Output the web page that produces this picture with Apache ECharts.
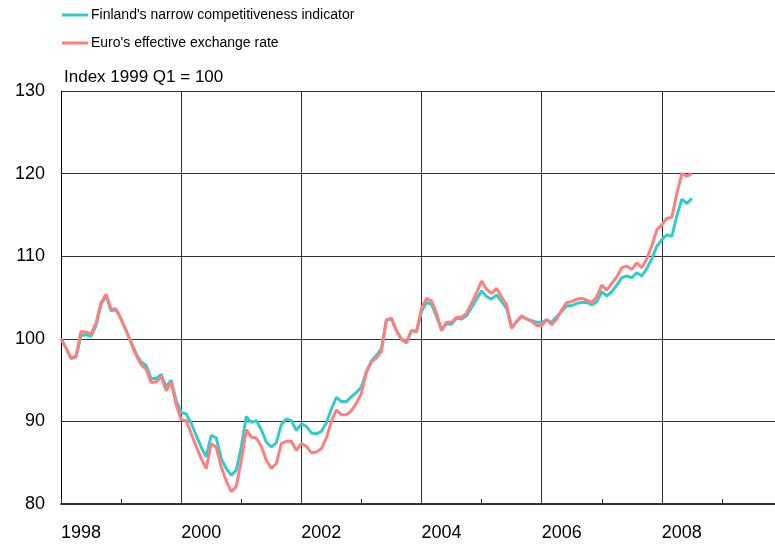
<!DOCTYPE html>
<html>
<head>
<meta charset="utf-8">
<script src="https://cdn.jsdelivr.net/npm/echarts@6/dist/echarts.min.js"></script>
<style>
html,body{margin:0;padding:0;background:#fff;overflow:hidden;width:775px;height:548px;}
#chart{width:785px;height:548px;}
</style>
</head>
<body>
<div id="chart"></div>
<script>
// Monthly data, first point January 1998
var startYear = 1998;
var seriesNames = ["Finland's narrow competitiveness indicator", "Euro's effective exchange rate"];
var finland = [
  100.0, 98.9, 97.6, 97.8, 100.4, 100.5, 100.3, 101.6, 104.2, 105.2, 103.4, 103.5,
  102.4, 101.0, 99.6, 98.2, 97.2, 96.8, 95.2, 95.2, 95.7, 94.2, 95.0, 92.5,
  91.1, 90.9, 89.8, 88.3, 86.9, 85.7, 88.3, 88.0, 85.5, 84.3, 83.5, 84.1,
  86.9, 90.6, 89.9, 90.1, 89.0, 87.5, 86.9, 87.4, 89.6, 90.3, 90.1, 88.9,
  89.7, 89.4, 88.6, 88.5, 88.8, 89.8, 91.5, 92.9, 92.4, 92.4, 93.0, 93.5,
  94.2, 96.0, 97.3, 98.0, 98.8, 102.3, 102.4, 101.0, 100.0, 99.6, 101.0, 100.8,
  103.3, 104.4, 104.2, 102.7, 101.1, 101.8, 101.8, 102.5, 102.4, 102.8, 103.8, 104.8,
  105.8, 105.1, 104.8, 105.3, 104.5, 103.7, 101.3, 102.1, 102.7, 102.4, 102.2, 102.0,
  102.0, 102.3, 102.0, 102.7, 103.3, 104.0, 104.0, 104.3, 104.4, 104.4, 104.1, 104.5,
  105.7, 105.2, 105.7, 106.5, 107.4, 107.6, 107.4, 108.0, 107.6, 108.5, 109.7, 111.2,
  112.0, 112.6, 112.4, 114.9, 116.9, 116.4, 117.0
];
var euro = [
  100.0, 98.9, 97.7, 97.9, 100.9, 100.8, 100.6, 101.9, 104.4, 105.4, 103.6, 103.6,
  102.4, 101.0, 99.5, 98.0, 96.9, 96.3, 94.7, 94.8, 95.4, 93.7, 94.8, 92.0,
  90.2, 90.1, 88.5, 87.0, 85.5, 84.3, 87.3, 86.9, 84.5, 82.8, 81.5, 82.1,
  85.3, 89.0, 88.1, 88.0, 87.0, 85.3, 84.3, 84.9, 87.3, 87.6, 87.6, 86.5,
  87.3, 87.0, 86.2, 86.3, 86.7, 88.0, 90.0, 91.4, 90.8, 90.8, 91.3, 92.2,
  93.4, 96.0, 97.2, 97.7, 98.5, 102.3, 102.5, 101.0, 99.9, 99.5, 101.0, 100.9,
  103.7, 104.9, 104.6, 103.1, 101.0, 102.0, 102.0, 102.6, 102.6, 103.1, 104.3, 105.6,
  107.0, 106.0, 105.5, 106.1, 105.1, 104.1, 101.3, 102.1, 102.8, 102.4, 102.1, 101.6,
  101.6, 102.3, 101.7, 102.4, 103.5, 104.4, 104.5, 104.8, 104.9, 104.7, 104.4, 105.1,
  106.5, 105.9, 106.7, 107.5, 108.6, 108.8, 108.4, 109.2, 108.6, 109.7, 111.3, 113.2,
  113.8, 114.6, 114.7, 117.6, 120.0, 119.7, 120.0
];
var yTicks = [80, 90, 100, 110, 120, 130];
var xTicks = [1998, 2000, 2002, 2004, 2006, 2008];
var yTitle = 'Index 1999 Q1 = 100';

function toPairs(arr) {
  return arr.map(function (v, i) { return [startYear + i / 12, v]; });
}

var font = "'Liberation Sans', Arial, sans-serif";
var chart = echarts.init(document.getElementById('chart'), null, {renderer: 'canvas'});
chart.setOption({
  animation: false,
  backgroundColor: '#ffffff',
  textStyle: {fontFamily: font},
  graphic: [{
    type: 'text', left: 64, top: 69,
    style: {text: yTitle, font: '17px ' + font, fill: '#000'}
  }],
  legend: {
    orient: 'vertical', left: 57, top: 3, itemGap: 14,
    itemWidth: 26, itemHeight: 3, icon: 'rect',
    textStyle: {fontSize: 14, color: '#000', fontFamily: font, padding: [0,0,0,-2]},
    data: [seriesNames[0], seriesNames[1]]
  },
  grid: {left: 61, right: 1, top: 91, bottom: 44, containLabel: false},
  xAxis: {
    type: 'value', min: xTicks[0], max: 2010, interval: 2,
    axisLine: {show: true, onZero: false, lineStyle: {color: '#333', width: 2}},
    axisTick: {show: true, inside: true, length: 5, lineStyle: {color: '#333'}},
    minorTick: {show: true, splitNumber: 2, length: 5, lineStyle: {color: '#333'}},
    splitLine: {show: true, lineStyle: {color: '#333', width: 1}},
    axisLabel: {
      fontSize: 18, color: '#000', align: 'left', margin: 20, fontFamily: font,
      formatter: function (v) { return xTicks.indexOf(v) >= 0 ? String(v) : ''; }
    }
  },
  yAxis: {
    type: 'value', min: yTicks[0], max: yTicks[yTicks.length - 1], interval: 10,
    axisLine: {show: true, lineStyle: {color: '#000', width: 1}},
    axisTick: {show: true, inside: true, length: 5, lineStyle: {color: '#333'}},
    splitLine: {show: true, lineStyle: {color: '#333', width: 1}},
    axisLabel: {fontSize: 18, color: '#000', margin: 16, fontFamily: font}
  },
  series: [
    {
      name: seriesNames[0], type: 'line', data: toPairs(finland),
      showSymbol: false, symbol: 'none', z: 3,
      lineStyle: {color: '#33CCCC', width: 3}, itemStyle: {color: '#33CCCC'}
    },
    {
      name: seriesNames[1], type: 'line', data: toPairs(euro),
      showSymbol: false, symbol: 'none', z: 4,
      lineStyle: {color: '#FF7F7F', width: 3}, itemStyle: {color: '#FF7F7F'}
    }
  ]
});
</script>
</body>
</html>
